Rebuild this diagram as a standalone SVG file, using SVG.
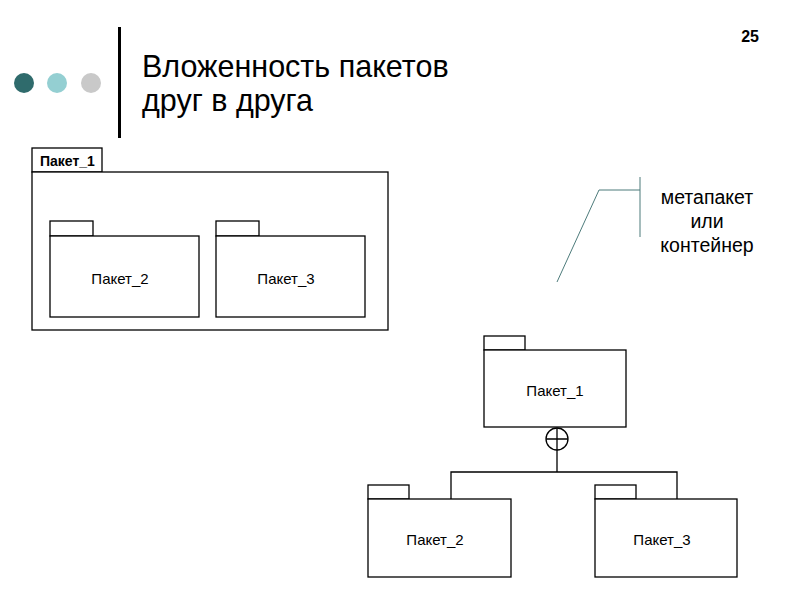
<svg xmlns="http://www.w3.org/2000/svg" width="800" height="600" viewBox="0 0 800 600">
<style>
.box{fill:#fff;stroke:#000;stroke-width:1.3}
.lbl{font-family:"Liberation Sans",Arial,sans-serif;font-size:15px;fill:#000;text-anchor:middle}
.ttl{font-family:"Liberation Sans",Arial,sans-serif;font-size:30.5px;fill:#000}
.note{font-family:"Liberation Sans",Arial,sans-serif;font-size:19.5px;fill:#000;text-anchor:middle}
.conn{fill:none;stroke:#000;stroke-width:1.3}
</style>
<rect width="800" height="600" fill="#fff"/>
<g id="header">
<circle cx="24" cy="83" r="10" fill="#2f6b6c"/>
<circle cx="57" cy="83" r="10" fill="#94cfd2"/>
<circle cx="91" cy="83" r="10" fill="#c9c9c9"/>
<rect x="118" y="27" width="3" height="111" fill="#000"/>
<text class="ttl" x="142" y="77">Вложенность пакетов</text>
<text class="ttl" x="142" y="111">друг в друга</text>
<text x="759" y="42" font-family="Liberation Sans,Arial,sans-serif" font-size="16" font-weight="bold" text-anchor="end">25</text>
</g>
<g id="container1">
<rect class="box" x="32" y="148" width="70" height="24"/>
<rect class="box" x="32" y="172" width="356" height="158"/>
<text x="40" y="166" font-family="Liberation Sans,Arial,sans-serif" font-size="14" font-weight="bold">Пакет_1</text>
</g>
<g id="inner2">
<rect class="box" x="50" y="221" width="43" height="15"/>
<rect class="box" x="50" y="236" width="149" height="81"/>
<text class="lbl" x="120" y="284">Пакет_2</text>
</g>
<g id="inner3">
<rect class="box" x="216" y="221" width="43" height="15"/>
<rect class="box" x="216" y="236" width="149" height="81"/>
<text class="lbl" x="286" y="284">Пакет_3</text>
</g>
<g id="note">
<path d="M640 177V237M640 190H599L557 282" fill="none" stroke="#4d7b7b" stroke-width="1"/>
<text class="note" x="707" y="204">метапакет</text>
<text class="note" x="707" y="228">или</text>
<text class="note" x="707" y="252">контейнер</text>
</g>
<g id="pkg1">
<rect class="box" x="484" y="336" width="41" height="14"/>
<rect class="box" x="484" y="350" width="142" height="77"/>
<text class="lbl" x="555" y="396">Пакет_1</text>
</g>
<g id="pkg2">
<rect class="box" x="368" y="485" width="41" height="14"/>
<rect class="box" x="368" y="499" width="143" height="78"/>
<text class="lbl" x="435" y="545">Пакет_2</text>
</g>
<g id="pkg3">
<rect class="box" x="595" y="485" width="41" height="14"/>
<rect class="box" x="595" y="499" width="142" height="78"/>
<text class="lbl" x="662" y="545">Пакет_3</text>
</g>
<g id="connectors">
<circle class="conn" cx="557" cy="439" r="11"/>
<path class="conn" d="M546 439H568M557 428V472M451 499V472H677V499"/>
</g>
</svg>
